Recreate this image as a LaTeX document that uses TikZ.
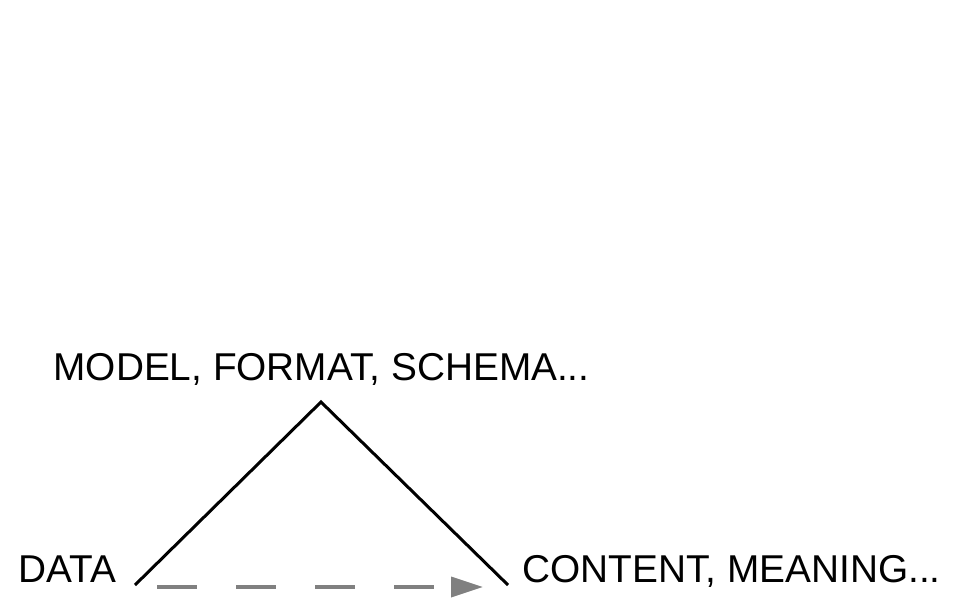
\documentclass[tikz,border=0pt]{standalone}
\usepackage{fontspec}
\setmainfont{Liberation Sans}
\usetikzlibrary{arrows.meta}
\definecolor{FlowGray}{HTML}{808080}

\begin{document}
\begin{tikzpicture}[x=1pt,y=-1pt,
    font=\fontsize{38.8}{42}\selectfont,
    inner sep=0pt,
    line width=3pt]
    \path [use as bounding box] (0,0) rectangle (959,600);

    \node[name=model,
      anchor=base west] at (52,380) {MODEL, FORMAT, SCHEMA...};

    \node[name=data,
      anchor=base west] at (17,582) {DATA};

    \node[name=content,
      anchor=base west] at (521,582) {CONTENT, MEANING...};

    \coordinate (apex) at (321,402);
    \coordinate (datafoot) at (135,585);
    \coordinate (contentfoot) at (508,585);
    \coordinate (flowstart) at (157,587);
    \coordinate (flowend) at (483,587);

    \draw (datafoot) -- (apex) -- (contentfoot);
    \path (flowstart) edge[draw=FlowGray,
      line width=3.5pt,
      dash pattern=on 40pt off 39pt,
      -{Triangle[length=32pt,width=20pt]}] (flowend);
  \end{tikzpicture}
\end{document}
